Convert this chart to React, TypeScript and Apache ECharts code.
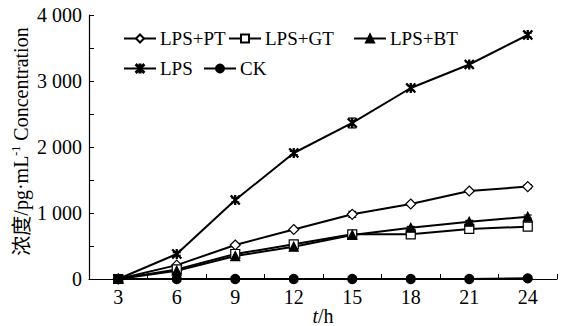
import React, { useEffect, useRef } from "react";
import * as echarts from "echarts";

const categories = ["3", "6", "9", "12", "15", "18", "21", "24"];
const lpsPT = [0, 210, 515, 750, 980, 1136, 1333, 1400];
const lpsGT = [0, 146, 379, 525, 677, 677, 758, 793];
const lpsBT = [0, 126, 348, 490, 667, 777, 868, 944];
const lps = [0, 379, 1197, 1909, 2364, 2894, 3250, 3697];
const ck = [0, 0, 0, 0, 0, 0, 0, 10];
const errPT = [0, 15, 20, 15, 45, 20, 20, 30];
const errGT = [0, 10, 15, 20, 20, 15, 20, 25];
const errBT = [0, 10, 15, 15, 20, 20, 20, 25];
const errLPS = [0, 20, 30, 25, 75, 35, 35, 30];
const errCK = [0, 0, 0, 0, 0, 0, 0, 0];
const yTicks = [0, 1000, 2000, 3000, 4000];

const ASTERISK =
  "path://M4.4 0 L5.6 0 L5.6 10 L4.4 10 Z M0.8 0 L10 9.2 L9.2 10 L0 0.8 Z M9.2 0 L10 0.8 L0.8 10 L0 9.2 Z";

const FONT = "Liberation Serif";
const CJK = "Noto Sans CJK SC";

export default function App() {
  const ref = useRef<HTMLDivElement>(null);
  useEffect(() => {
    if (!ref.current) return;
    const chart = echarts.init(ref.current, null, { renderer: "svg" });
    const mk = (
      name: string,
      data: number[],
      symbol: string,
      size: number,
      fill: string
    ) => ({
      name,
      type: "line",
      data,
      symbol,
      symbolSize: size,
      showAllSymbol: true,
      lineStyle: { color: "#000", width: 2 },
      itemStyle: { color: fill, borderColor: "#000", borderWidth: 1.2 },
      z: 3,
    });
    const errSeries = (vals: number[], errs: number[]) => ({
      type: "custom",
      silent: true,
      z: 2,
      data: vals.map((v, i) => [i, v, errs[i]]),
      renderItem: (params: any, api: any) => {
        const i = api.value(0);
        const v = api.value(1);
        const e = api.value(2);
        if (!e) return { type: "group", children: [] };
        const lo = api.coord([i, v - e]);
        const hi = api.coord([i, v + e]);
        const w = 4;
        const st = { stroke: "#000", lineWidth: 1.2 };
        return {
          type: "group",
          children: [
            { type: "line", shape: { x1: lo[0], y1: lo[1], x2: hi[0], y2: hi[1] }, style: st },
            { type: "line", shape: { x1: lo[0] - w, y1: lo[1], x2: lo[0] + w, y2: lo[1] }, style: st },
            { type: "line", shape: { x1: hi[0] - w, y1: hi[1], x2: hi[0] + w, y2: hi[1] }, style: st },
          ],
        };
      },
    });
    const legend = (name: string, left: number, top: number) => ({
      data: [name],
      left,
      top,
      padding: 0,
      itemWidth: 32,
      itemHeight: 10,
      itemGap: 0,
      textStyle: { fontFamily: FONT, fontSize: 19, color: "#000", padding: [0, 0, 0, -1] },
      selectedMode: false,
    });
    chart.setOption({
      animation: false,
      backgroundColor: "#fff",
      textStyle: { fontFamily: FONT },
      grid: {
        left: 89,
        right: 6,
        top: 15,
        bottom: 47,
        containLabel: false,
        outerBoundsMode: "none",
      },
      legend: [
        legend("LPS+PT", 123, 29),
        legend("LPS+GT", 228, 29),
        legend("LPS+BT", 353, 29),
        legend("LPS", 123, 59),
        legend("CK", 203, 59),
      ],
      graphic: [
        {
          type: "text",
          x: 323,
          y: 316,
          silent: true,
          style: {
            text: "{i|t}{n|/h}",
            align: "center",
            verticalAlign: "middle",
            fill: "#000",
            rich: {
              i: { fontStyle: "italic", fontSize: 20, lineHeight: 20, fontFamily: FONT, color: "#000" },
              n: { fontSize: 20, lineHeight: 20, fontFamily: FONT, color: "#000" },
            },
          },
        },
      ],
      xAxis: {
        type: "category",
        data: categories,
        boundaryGap: true,
        axisLine: { lineStyle: { color: "#000", width: 1.2 } },
        axisTick: { show: true, inside: true, length: 5, alignWithLabel: false, lineStyle: { color: "#000" } },
        axisLabel: { color: "#000", fontSize: 20, fontFamily: FONT, margin: 8 },
        splitLine: { show: false },
      },
      yAxis: {
        type: "value",
        min: 0,
        max: 4000,
        interval: 1000,
        axisLine: { show: true, lineStyle: { color: "#000", width: 1.2 } },
        axisTick: { show: true, inside: true, length: 5, lineStyle: { color: "#000" } },
        minorTick: { show: true, splitNumber: 2, length: 5, lineStyle: { color: "#000" } },
        splitLine: { show: false },
        axisLabel: {
          color: "#000",
          fontSize: 20,
          fontFamily: FONT,
          margin: 7,
          formatter: (v: number) => {
            const i = yTicks.indexOf(v);
            if (i < 0) return "";
            return String(v).replace(/\B(?=(\d{3})+(?!\d))/g, " ");
          },
        },
        name: "{c|浓度}/pg·mL{s|-1} Concentration",
        nameLocation: "middle",
        nameRotate: 90,
        nameGap: 58,
        nameMoveOverlap: false,
        nameTextStyle: {
          color: "#000",
          fontSize: 20,
          fontFamily: FONT,
          padding: [0, 0, 0, 11],
          rich: {
            c: { fontSize: 20, fontFamily: CJK, color: "#000" },
            s: { fontSize: 12, fontFamily: FONT, color: "#000", verticalAlign: "top", padding: [0, 0, 9, 0] },
          },
        },
      },
      series: [
        errSeries(lpsPT, errPT),
        errSeries(lpsGT, errGT),
        errSeries(lpsBT, errBT),
        errSeries(lps, errLPS),
        errSeries(ck, errCK),
        mk("LPS+PT", lpsPT, "diamond", 10, "#fff"),
        mk("LPS+GT", lpsGT, "rect", 9, "#fff"),
        mk("LPS+BT", lpsBT, "triangle", 9, "#000"),
        mk("LPS", lps, ASTERISK, 9, "#000"),
        mk("CK", ck, "circle", 9, "#000"),
      ],
    });
    return () => chart.dispose();
  }, []);
  return (
    <div
      ref={ref}
      style={{ position: "absolute", left: 0, top: 0, width: 563, height: 326 }}
    />
  );
}
